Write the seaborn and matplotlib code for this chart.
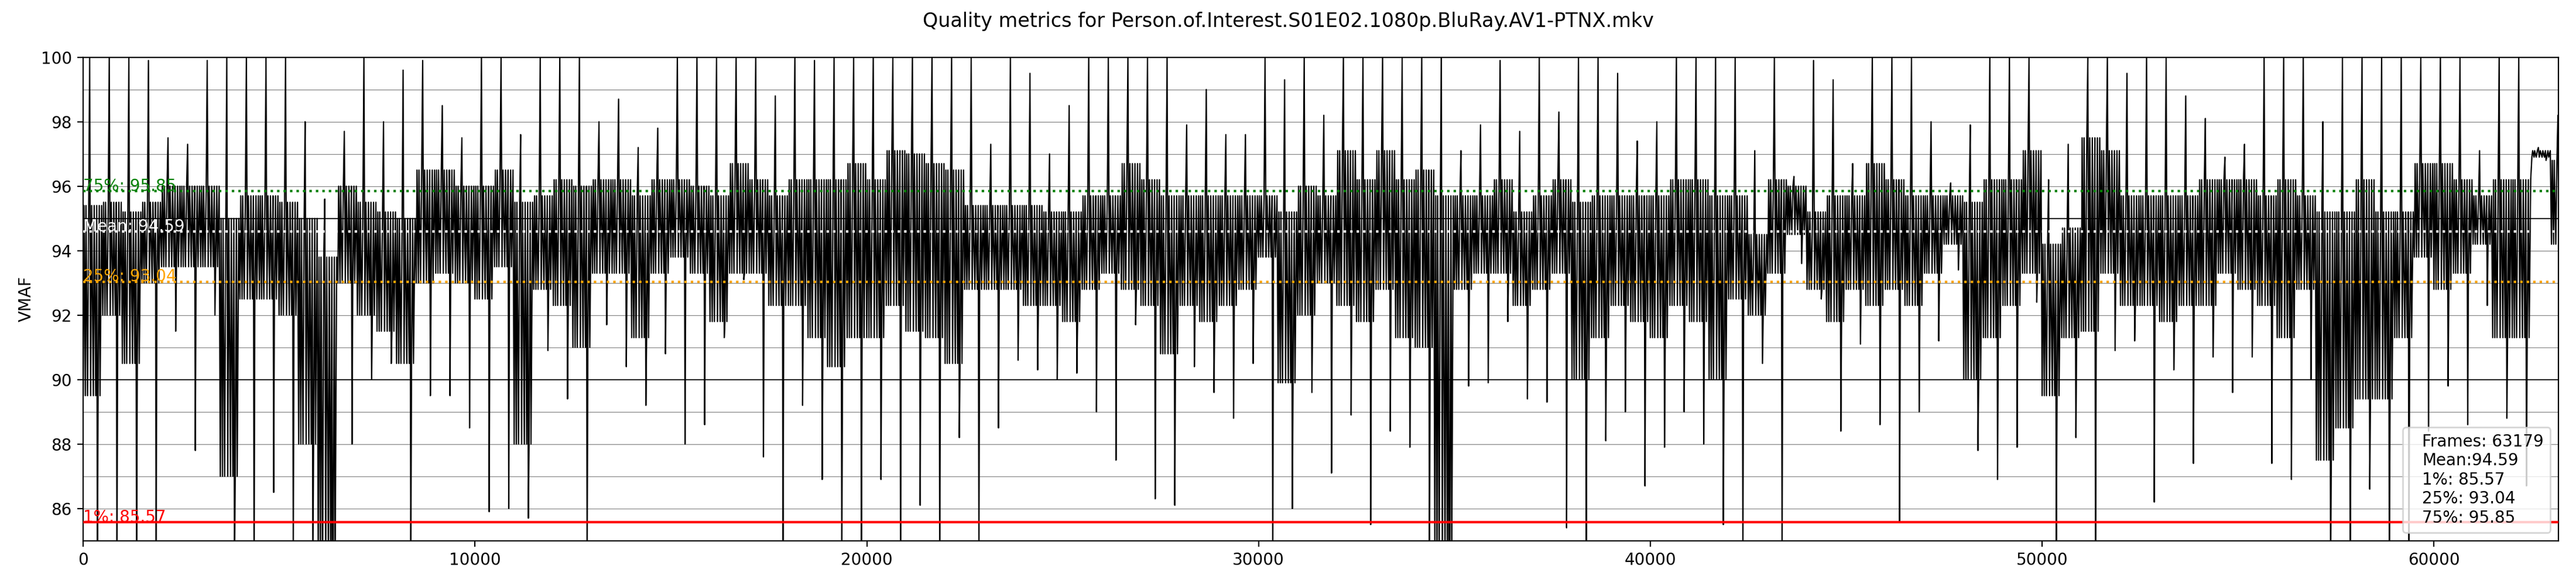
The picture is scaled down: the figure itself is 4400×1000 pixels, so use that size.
import matplotlib
matplotlib.use("Agg")
import matplotlib.pyplot as plt
from matplotlib.ticker import MultipleLocator
import numpy as np
import pandas as pd
import seaborn as sns

title = "Quality metrics for Person.of.Interest.S01E02.1080p.BluRay.AV1-PTNX.mkv"
n_frames = 63179
bin_size = 500
mean_vmaf = 94.59
p1 = 85.57
p25 = 93.04
p75 = 95.85
ref_lines = [90, 95]

# per 500-frame bin: highest spike, lowest dip and the dense band
peak = [100, 100, 100, 99.9, 97.5, 97.3, 99.9, 100, 100, 100, 100, 98, 95.6, 97.7, 100, 98, 99.6, 99.9, 98.5, 97.5, 100,
        100, 97.6, 100, 100, 100, 98, 98.7, 97.2, 97.8, 100, 100, 100, 100, 100, 98.8, 100, 99.9, 100, 100, 100, 100, 100,
        100, 100, 100, 97.3, 100, 99.5, 97, 98.5, 100, 100, 100, 100, 100, 97.9, 99, 97.6, 97.6, 100, 99.3, 100, 98.2,
        100, 100, 100, 100, 100, 100, 97.1, 97.9, 99.9, 97.7, 100, 98.3, 100, 100, 99.5, 97.4, 98, 100, 100, 100, 100,
        97.1, 100, 96.3, 99.9, 99.3, 96.7, 100, 100, 100, 98, 96.1, 97.9, 100, 100, 100, 96.2, 97.3, 100, 100, 99.5,
        100, 100, 98.8, 98.1, 96.9, 97.3, 100, 100, 100, 98, 100, 100, 100, 100, 100, 100, 100, 97.1, 100, 100, 97.2, 98.2]
dip = [84, 84, 84, 84, 91.5, 87.8, 92, 84, 84, 86.5, 84.3, 84, 84, 88, 90, 90.5, 84, 89.5, 89.5, 88.5, 85.9,
       86, 85.7, 90.9, 89.4, 84, 91.7, 90.4, 89.2, 90.8, 88, 88.6, 91.3, 93.1, 87.6, 84, 89.2, 86.9, 84, 84, 86.9, 84, 86.1,
       84, 88.2, 84, 88.5, 90.6, 90.3, 90, 90.2, 89, 87.5, 91.7, 86.3, 86.1, 90.4, 89.6, 88.8, 90.5, 84, 86, 89.6, 87.1,
       88.9, 85.5, 88.4, 87.9, 84, 84, 89.8, 89.9, 91.8, 89.4, 89.3, 85.4, 84, 88.1, 89, 86.7, 87.9, 89, 88, 85.5, 84,
       90.5, 84, 93.6, 92.5, 88.4, 91.1, 88.6, 85.6, 89, 91.2, 93.4, 87.8, 86.9, 87.9, 92.4, 84.9, 88.2, 84, 90.9, 91.2,
       86.2, 90.3, 87.4, 90.7, 89.6, 90.7, 87.4, 86.9, 90, 84, 84, 86.6, 84, 84, 88.4, 89.8, 88.6, 92.3, 88.8, 86.7, 96.8, 93]
core_lo = [89.5, 92, 90.5, 93, 93.5, 93.5, 93.5, 87, 92.5, 92.5, 92, 88, 84, 93, 92, 91.5, 90.5, 93, 93.3, 93, 92.5,
           93.5, 88, 92.8, 92.3, 91, 93.3, 93.3, 91.3, 93.3, 93.8, 93.3, 91.8, 93.3, 93.3, 92.3, 92.3, 91.3, 90.4, 91.3, 91.3, 92.3, 91.5,
           91.3, 90.5, 92.8, 92.8, 92.8, 92.3, 92.3, 91.8, 92.8, 93.3, 92.8, 92.3, 90.8, 92.3, 91.8, 92.3, 92.8, 93.8, 89.9, 92, 93,
           92.3, 91.8, 92.8, 91.3, 91, 84, 92.8, 93.3, 93.3, 92.3, 92.8, 93.3, 90, 91.3, 92.3, 91.8, 91.3, 92.3, 91.8, 90, 92.5,
           92, 93.3, 94.5, 92.8, 91.8, 92.8, 92.3, 92.8, 92.3, 93.3, 94.2, 90, 91.3, 92.3, 93.3, 89.5, 91.3, 91.5, 93.3, 92.3,
           92.3, 91.8, 92.3, 92.3, 93.3, 92.8, 92.3, 91.3, 92.8, 87.5, 88.5, 89.4, 89.4, 91.3, 93.8, 92.8, 93.3, 94.2, 91.3, 91.3, 96.9, 94.2]
core_hi = [95.4, 95.5, 95.2, 95.5, 96, 96, 96, 95, 95.7, 95.7, 95.5, 95, 93.8, 96, 95.5, 95.2, 95, 96.5, 96.5, 96, 96,
           96.5, 95.5, 95.7, 96.2, 96, 96.2, 96.2, 95.7, 96.2, 96.2, 96, 95.7, 96.7, 96.2, 95.7, 96.2, 96.2, 96.2, 96.7, 96.2, 97.1, 97,
           96.7, 96.5, 95.4, 95.4, 95.4, 95.4, 95.2, 95.2, 95.7, 95.7, 96.7, 96.2, 95.7, 95.7, 95.7, 95.7, 95.7, 95.7, 95.2, 96, 95.7,
           97.1, 96.2, 97.1, 96.2, 96.5, 95.7, 95.7, 95.7, 96.2, 95.2, 95.7, 96.2, 95.5, 95.7, 95.7, 95.7, 95.7, 96.2, 96.2, 95.7, 95.7,
           94.5, 96.2, 96, 95.2, 95.7, 95.7, 96.7, 96.2, 95.7, 95.7, 95.7, 95.5, 96.2, 96.2, 97.1, 94.2, 94.7, 97.5, 97.1, 95.7,
           95.7, 95.7, 95.7, 96.2, 96.2, 96.2, 95.7, 96.2, 95.7, 95.2, 95.2, 96.2, 95.2, 95.2, 96.7, 96.7, 96.2, 95.7, 96.2, 96.2, 97.1, 96.8]

bins = pd.DataFrame({"start": np.arange(len(peak)) * bin_size,
                     "core_hi": core_hi, "peak": peak, "core_lo": core_lo, "dip": dip})

# walk through each bin: uneven swings across the dense band,
# going out to the spike and down to the dip once
swing_at = [0, 20, 55, 70, 110, 140, 190, 215, 260, 280, 320, 345, 380, 410, 430, 470]
walk = [("core_lo" if k % 2 == 0 else "core_hi", off) for k, off in enumerate(swing_at)]
walk += [("peak", 165), ("dip", 362)]
trace = pd.concat(
    [pd.DataFrame({"frame": bins["start"] + offset, "vmaf": bins[col]}) for col, offset in walk]
).sort_values("frame").reset_index(drop=True)

fig, ax = plt.subplots(figsize=(22, 5), dpi=200)
fig.subplots_adjust(left=0.0323, right=0.9932, bottom=0.0773, top=0.9023)

ax.yaxis.set_major_locator(MultipleLocator(2))
ax.yaxis.set_minor_locator(MultipleLocator(1))
ax.tick_params(axis="y", which="minor", length=0)
ax.grid(True, axis="y", which="both", color="gray", linewidth=0.4)
ax.set_axisbelow(True)
for ref in ref_lines:
    ax.axhline(ref, color="black", linewidth=0.6, zorder=1)

sns.lineplot(data=trace, x="frame", y="vmaf", color="black", linewidth=0.8,
             estimator=None, sort=False, ax=ax, zorder=2)

stat_lines = [(p75, "75%", "green", ":"), (mean_vmaf, "Mean", "white", ":"),
              (p25, "25%", "orange", ":"), (p1, "1%", "red", "-")]
for value, name, colour, style in stat_lines:
    ax.axhline(value, color=colour, linestyle=style, linewidth=1.5, zorder=3)
    ax.text(0, value, f"{name}: {value:.2f}", color=colour, fontsize=10, zorder=4)

summary = (f"Frames: {n_frames}\nMean:{mean_vmaf:.2f}\n1%: {p1:.2f}\n"
           f"25%: {p25:.2f}\n75%: {p75:.2f}")
ax.plot([], [], " ", label=summary)
ax.legend(loc="lower right", handlelength=0, handletextpad=0.8)

ax.set_xlim(0, n_frames)
ax.set_ylim(85, 100)
ax.set_xlabel("")
ax.set_ylabel("VMAF")
fig.suptitle(title)
fig.savefig("out.png", dpi=200)
plt.close(fig)
